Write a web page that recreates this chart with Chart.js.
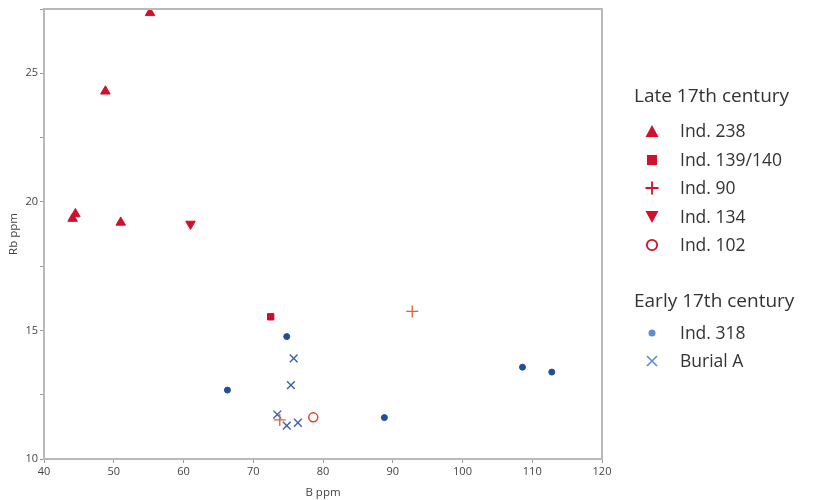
<!DOCTYPE html>
<html><head><meta charset="utf-8">
<script src="https://cdn.jsdelivr.net/npm/chart.js@4.4.1/dist/chart.umd.min.js"></script>
<style>
html,body{margin:0;padding:0;background:#fff;}
#wrap{position:relative;width:814px;height:500px;font-family:"Open Sans","Noto Sans",sans-serif;}
#legend{position:absolute;left:634px;top:80px;color:#333;}
.ttl{font-size:19px;height:30px;line-height:30px;}
.it{font-size:17.5px;height:28.5px;line-height:28.5px;position:relative;padding-left:46px;}
.it svg{position:absolute;left:10px;top:7px;}
</style></head><body>
<div id="wrap"><canvas id="c" width="814" height="500"></canvas>
<div id="legend">
<div class="ttl">Late 17th century</div>
<div style="height:6px"></div>
<div class="it"><svg width="16" height="16"><polygon points="8,2 14.5,14 1.5,14" fill="#d0112b"/></svg>Ind. 238</div>
<div class="it"><svg width="16" height="16"><rect x="3" y="3" width="10" height="10" fill="#d0112b"/></svg>Ind. 139/140</div>
<div class="it"><svg width="16" height="16"><path d="M8 1.5V14.5M1.5 8H14.5" stroke="#d0112b" stroke-width="1.8"/></svg>Ind. 90</div>
<div class="it"><svg width="16" height="16"><polygon points="1.5,2 14.5,2 8,14" fill="#d0112b"/></svg>Ind. 134</div>
<div class="it"><svg width="16" height="16"><circle cx="8" cy="8" r="5.2" fill="none" stroke="#d0112b" stroke-width="1.8"/></svg>Ind. 102</div>
<div style="height:26px"></div>
<div class="ttl">Early 17th century</div>
<div style="height:3px"></div>
<div class="it"><svg width="16" height="16"><circle cx="8" cy="8" r="3.5" fill="#5b8fd0"/></svg>Ind. 318</div>
<div class="it"><svg width="16" height="16"><path d="M3 3L13 13M13 3L3 13" stroke="#5b8fd0" stroke-width="1.6"/></svg>Burial A</div>
</div></div>
<script>
const xTicks = [40,50,60,70,80,90,100,110,120];
const yTicks = [10,15,20,25];
const ind238_B = [55.2, 48.8, 44.1, 44.5, 51.0];
const ind238_Rb = [27.35, 24.3, 19.35, 19.53, 19.2];
const ind139_B = [72.5];
const ind139_Rb = [15.53];
const ind90_B = [92.8, 73.8];
const ind90_Rb = [15.74, 11.52];
const ind134_B = [61.0];
const ind134_Rb = [19.14];
const ind102_B = [78.6];
const ind102_Rb = [11.62];
const ind318_B = [74.8, 66.3, 88.8, 108.6, 112.8];
const ind318_Rb = [14.76, 12.68, 11.61, 13.57, 13.38];
const burialA_B = [75.8, 75.4, 73.45, 74.8, 76.4];
const burialA_Rb = [13.91, 12.87, 11.73, 11.30, 11.41];

const pts = (xs, ys) => xs.map((x,i)=>({x:x, y:ys[i]}));

const boxPlugin = {
  id:'box',
  afterDraw(chart){
    const {ctx, chartArea:a} = chart;
    ctx.save();
    ctx.strokeStyle='#b9b9b9';
    ctx.lineWidth=2;
    ctx.strokeRect(a.left, a.top, a.right-a.left, a.bottom-a.top);
    ctx.restore();
  }
};

new Chart(document.getElementById('c'), {
  type:'scatter',
  data:{datasets:[
    {label:'Ind. 238', data:pts(ind238_B, ind238_Rb), pointStyle:'triangle', radius:5.5, backgroundColor:'#d0112b', borderColor:'#d0112b', borderWidth:1},
    {label:'Ind. 139/140', data:pts(ind139_B, ind139_Rb), pointStyle:'rect', radius:4.5, backgroundColor:'#c8102e', borderColor:'#c8102e', borderWidth:1},
    {label:'Ind. 90', data:pts(ind90_B, ind90_Rb), pointStyle:'cross', radius:6, backgroundColor:'#e0602e', borderColor:'#e0602e', borderWidth:1.3},
    {label:'Ind. 134', data:pts(ind134_B, ind134_Rb), pointStyle:'triangle', rotation:180, radius:5.5, backgroundColor:'#d0112b', borderColor:'#d0112b', borderWidth:1},
    {label:'Ind. 102', data:pts(ind102_B, ind102_Rb), pointStyle:'circle', radius:4.5, backgroundColor:'rgba(0,0,0,0)', borderColor:'#e0402e', borderWidth:1.5},
    {label:'Ind. 318', data:pts(ind318_B, ind318_Rb), pointStyle:'circle', radius:3, backgroundColor:'#1f4e9a', borderColor:'#1f4e9a', borderWidth:1},
    {label:'Burial A', data:pts(burialA_B, burialA_Rb), pointStyle:'crossRot', radius:5.5, backgroundColor:'#3d5fae', borderColor:'#3d5fae', borderWidth:1.4}
  ]},
  options:{
    responsive:false, animation:false,
    layout:{padding:{top:9, right:212, left:0, bottom:0}},
    plugins:{legend:{display:false}, tooltip:{enabled:false}},
    scales:{
      x:{type:'linear', min:40, max:120,
        afterBuildTicks(s){ s.ticks = xTicks.map(v=>({value:v})); },
        afterFit(s){ s.height = 41; },
        grid:{display:true, drawOnChartArea:false, drawTicks:true, tickLength:4, color:'#9a9a9a'},
        border:{display:true, color:'#b9b9b9', width:2},
        ticks:{color:'#444', font:{family:'"Open Sans","Noto Sans",sans-serif', size:11}, padding:2, maxRotation:0},
        title:{display:true, text:'B ppm', color:'#444', font:{family:'"Open Sans","Noto Sans",sans-serif', size:11.5}, padding:{top:0,bottom:0}}
      },
      y:{type:'linear', min:10, max:27.5,
        afterBuildTicks(s){ const t=[]; for(let v=10; v<=27.5; v+=2.5) t.push({value:v}); s.ticks=t; },
        afterFit(s){ s.width = 44; },
        grid:{display:true, drawOnChartArea:false, drawTicks:true, tickLength:4, color:'#9a9a9a'},
        border:{display:true, color:'#b9b9b9', width:2},
        ticks:{color:'#444', font:{family:'"Open Sans","Noto Sans",sans-serif', size:11}, padding:2,
          callback:(v)=> yTicks.includes(v) ? String(v) : ''},
        title:{display:true, text:'Rb ppm', color:'#444', font:{family:'"Open Sans","Noto Sans",sans-serif', size:11.5}, padding:{top:7,bottom:0}}
      }
    }
  },
  plugins:[boxPlugin]
});
</script></body></html>
